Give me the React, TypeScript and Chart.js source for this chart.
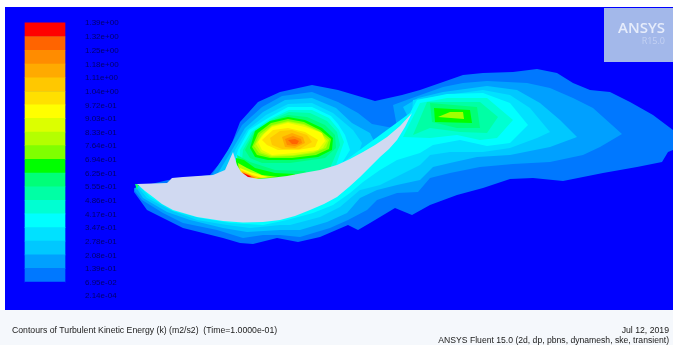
import React, { useEffect, useRef } from "react";
import { Chart, registerables } from "chart.js";

Chart.register(...registerables);

type P = [number, number];

const tickLabels = ["1.39e+00","1.32e+00","1.25e+00","1.18e+00","1.11e+00","1.04e+00","9.72e-01","9.03e-01","8.33e-01","7.64e-01","6.94e-01","6.25e-01","5.55e-01","4.86e-01","4.17e-01","3.47e-01","2.78e-01","2.08e-01","1.39e-01","6.95e-02","2.14e-04"];
const tickValues = [1.39,1.32,1.25,1.18,1.11,1.04,0.972,0.903,0.833,0.764,0.694,0.625,0.555,0.486,0.417,0.347,0.278,0.208,0.139,0.0695,0.000214];
const barColors = ["#ff0000","#ff6400","#ff8c00","#ffaa00","#ffc800","#ffe000","#ffff00","#dcff00","#b4ff00","#80ff00","#00ff00","#00ff78","#00ffa5","#00ffd2","#00ffff","#00e1ff","#00c8ff","#00a0ff","#0078ff","#0000ff"];

const title = "Contours of Turbulent Kinetic Energy (k) (m2/s2)  (Time=1.0000e-01)";
const dateText = "Jul 12, 2019";
const solverText = "ANSYS Fluent 15.0 (2d, dp, pbns, dynamesh, ske, transient)";

const field: P[] = [[5,7],[673,7],[673,310],[5,310],[5,7]];
const footer: P[] = [[0,310],[673,310],[673,345],[0,345],[0,310]];
const logo: P[] = [[604,8],[673,8],[673,62],[604,62],[604,8]];

const level1: P[] = [[134,188],[168,180],[210,175],[225,157],[232,143],[240,122],[258,102],[280,92],[312,85],[338,90],[375,101],[402,95],[420,90],[443,82],[463,75],[483,73],[513,72],[537,69],[557,73],[573,83],[590,90],[610,92],[630,102],[653,115],[673,130],[673,150],[668,152],[662,162],[637,167],[603,173],[563,181],[533,178],[510,179],[483,188],[457,195],[430,205],[412,215],[395,208],[370,223],[358,230],[348,225],[320,237],[298,242],[277,238],[253,244],[240,243],[223,238],[203,233],[183,228],[163,218],[147,210],[142,203],[134,192]];
const level2: P[] = [[135,188],[210,178],[228,150],[242,125],[262,107],[282,96],[312,92],[338,102],[358,113],[372,124],[393,128],[397,127],[393,105],[412,98],[443,87],[463,83],[487,81],[527,83],[550,88],[573,98],[593,108],[622,134],[600,147],[583,155],[550,162],[513,164],[480,167],[450,173],[430,178],[418,192],[397,193],[377,200],[367,210],[348,220],[330,228],[300,237],[280,235],[263,235],[243,238],[217,230],[183,223],[163,213],[142,200],[135,191]];
const level3: P[] = [[136,187],[215,178],[232,150],[245,128],[263,112],[285,100],[312,98],[336,108],[352,123],[370,133],[377,147],[403,125],[408,117],[403,107],[418,98],[443,92],[487,86],[517,90],[540,103],[560,120],[577,137],[550,147],[510,155],[477,157],[450,163],[433,167],[420,180],[397,185],[377,190],[360,198],[347,213],[327,222],[300,230],[280,230],[247,232],[223,228],[190,220],[167,212],[143,198]];
const level4: P[] = [[137,186],[225,178],[235,150],[247,130],[266,115],[288,104],[312,103],[333,113],[353,130],[362,143],[357,158],[408,118],[412,112],[413,100],[447,95],[483,90],[510,95],[530,108],[550,132],[537,138],[510,148],[483,152],[450,152],[430,155],[420,165],[400,175],[380,185],[360,190],[340,207],[320,217],[290,225],[280,225],[250,228],[227,225],[197,220],[170,210],[147,198]];
const level5: P[] = [[140,187],[230,178],[238,150],[249,130],[268,118],[288,107],[312,107],[331,116],[338,124],[345,135],[350,150],[342,163],[410,113],[417,100],[447,94],[483,93],[510,103],[528,125],[510,143],[487,146],[460,140],[433,145],[420,153],[397,160],[380,170],[363,182],[350,193],[333,205],[313,213],[287,220],[263,225],[230,223],[200,218],[173,211],[150,197]];
const level6Lobe: P[] = [[240,178],[240,150],[251,132],[270,119],[289,110],[312,110],[329,118],[339,130],[344,142],[336,165],[300,178]];
const level6Wake: P[] = [[403,137],[420,103],[447,98],[487,98],[513,120],[497,138],[480,140],[457,135],[430,138]];
const level7Lobe: P[] = [[240,178],[243,150],[253,132],[271,120],[289,112],[310,113],[327,121],[337,132],[340,145],[330,168],[300,176]];
const level7Wake: P[] = [[413,135],[427,102],[480,102],[498,117],[487,133],[460,132],[430,128]];
const level8Lobe: P[] = [[245,150],[255,131],[271,121],[288,115],[307,117],[325,125],[335,135],[336,148],[325,158],[290,163],[262,163],[250,158]];
const level8Lip: P[] = [[237,155],[250,162],[275,170],[305,171],[310,178],[240,180]];
const level8Wake: P[] = [[432,122],[430,103],[477,107],[480,128],[457,128]];
const level8Tip: P[] = [[135,184],[139,184],[137,190]];
const level9Lobe: P[] = [[250,148],[255,131],[270,121],[288,117],[305,120],[322,128],[333,138],[332,150],[318,157],[292,160],[268,160],[255,157]];
const level9Lip: P[] = [[236,158],[244,160],[255,168],[275,173],[295,174],[295,182],[240,182],[235,170]];
const level9Wake: P[] = [[435,122],[434,108],[470,110],[472,123]];
const level10Lobe: P[] = [[252,147],[258,133],[271,123],[288,119],[304,122],[320,130],[331,139],[329,149],[316,155],[292,158],[270,158],[257,155]];
const level10Wake: P[] = [[438,117],[450,112],[463,112],[464,119]];
const level11Lobe: P[] = [[254,146],[260,134],[272,125],[288,121],[304,124],[319,131],[329,140],[326,148],[314,153],[293,156],[271,157],[259,153]];
const level11Lip: P[] = [[238,163],[247,168],[262,175],[278,177],[240,180]];
const level12Lobe: P[] = [[256,144],[262,135],[272,126],[288,122],[304,125],[320,132],[327,141],[323,148],[313,152],[294,155],[272,156],[261,152]];
const level13Lobe: P[] = [[258,142],[264,134],[272,127],[288,123],[305,127],[322,133],[325,141],[318,150],[295,153],[272,155],[262,150]];
const level13Lip: P[] = [[240,168],[250,172],[268,177],[243,180]];
const level14Lobe: P[] = [[262,140],[273,130],[288,128],[305,132],[318,140],[315,147],[298,150],[278,150],[267,145]];
const level15Lobe: P[] = [[270,138],[280,131],[292,130],[307,135],[312,142],[300,149],[282,149],[272,145]];
const level15Lip: P[] = [[241,170],[252,175],[262,178],[244,179]];
const level16Lobe: P[] = [[282,137],[292,133],[303,137],[305,143],[295,148],[285,147]];
const level17Lobe: P[] = [[285,139],[293,136],[301,139],[302,143],[295,146],[287,145]];
const level17Lip: P[] = [[242,172],[252,176],[256,178],[245,178]];
const level18Lobe: P[] = [[288,140],[295,139],[299,141],[297,144],[292,144]];
const level19Lip: P[] = [[243,173],[250,176],[252,177.5],[246,177]];
const blade: P[] = [[137,184],[167,183],[172,178],[183,177],[213,175],[225,170],[233,152],[237,165],[241,172],[248,177],[258,179],[270,178],[287,176],[303,173],[320,170],[337,165],[350,159],[363,152],[375,145],[387,137],[400,126],[412,113],[405,127],[397,140],[389,149],[380,157],[370,167],[360,177],[349,187],[337,197],[324,204],[310,210],[295,216],[280,220],[263,222],[243,222.5],[223,221],[197,217],[173,210],[162,204],[153,197],[145,191]];

const layers: [P[], string][] = [
  [field, "#0000ff"], [footer, "#f5f8fc"], [logo, "#a3b8ea"],
  [level1, "#0078ff"], [level2, "#00a0ff"], [level3, "#00c8ff"], [level4, "#00e1ff"], [level5, "#00ffff"],
  [level6Lobe, "#00ffd2"], [level6Wake, "#00ffd2"], [level7Lobe, "#00ffa5"], [level7Wake, "#00ffa5"],
  [level8Lobe, "#00ff78"], [level8Lip, "#00ff78"], [level8Wake, "#00ff78"], [level8Tip, "#00ff78"],
  [level9Lobe, "#00ff00"], [level9Lip, "#00ff00"], [level9Wake, "#00ff00"],
  [level10Lobe, "#80ff00"], [level10Wake, "#a0ff00"],
  [level11Lobe, "#b4ff00"], [level11Lip, "#b4ff00"], [level12Lobe, "#dcff00"],
  [level13Lobe, "#ffff00"], [level13Lip, "#ffff00"], [level14Lobe, "#ffe000"],
  [level15Lobe, "#ffc800"], [level15Lip, "#ffc800"], [level16Lobe, "#ffaa00"],
  [level17Lobe, "#ff8c00"], [level17Lip, "#ff8c00"], [level18Lobe, "#ff6400"], [level19Lip, "#ff0000"],
  [blade, "#d0d9f1"],
];

const textPlugin = {
  id: "fluentText",
  afterDatasetsDraw(chart: any) {
    const { ctx } = chart;
    const k = chart.scales.k;
    ctx.save();
    ctx.textBaseline = "middle";
    ctx.textAlign = "left";
    ctx.font = '8px "Liberation Sans"';
    ctx.fillStyle = "rgba(0,0,70,0.8)";
    tickLabels.forEach((t, i) => ctx.fillText(t, 85, k.getPixelForValue(tickValues[i]) + 0.5));
    ctx.fillStyle = "#202020";
    ctx.font = '8.7px "Liberation Sans"';
    ctx.fillText(title, 12, 331);
    ctx.textAlign = "right";
    ctx.fillText(dateText, 669, 331);
    ctx.font = '8.62px "Liberation Sans"';
    ctx.fillText(solverText, 669, 341);
    ctx.fillStyle = "#e6ecfb";
    ctx.font = '600 15px "Open Sans"';
    ctx.fillText("ANSYS", 665, 29);
    ctx.fillStyle = "#c4d1f3";
    ctx.font = '9px "Open Sans"';
    ctx.fillText("R15.0", 665, 41);
    ctx.restore();
  },
};

export default function App() {
  const ref = useRef<HTMLCanvasElement>(null);
  useEffect(() => {
    const shapes = layers.map(([pts, color], i) => ({
      type: "scatter" as const,
      data: [...pts, pts[0]].map(([x, y]) => ({ x, y })),
      showLine: true,
      fill: "shape",
      backgroundColor: color,
      borderColor: color,
      borderWidth: 0,
      pointRadius: 0,
      tension: 0,
      order: 100 - i,
    }));
    const bars = {
      type: "bar" as const,
      yAxisID: "k",
      data: barColors.map((_, i) => ({ x: 45, y: [tickValues[i + 1], tickValues[i]] })),
      backgroundColor: barColors,
      barThickness: 40,
      borderWidth: 0,
      order: 0,
    };
    const chart = new Chart(ref.current!, {
      data: { datasets: [...shapes, bars] as any },
      options: {
        animation: false,
        responsive: false,
        layout: { padding: 0 },
        scales: {
          x: { type: "linear", min: 0, max: 673, display: false, offset: false },
          y: { type: "linear", min: 0, max: 345, reverse: true, display: false },
          k: { type: "linear", min: -0.2508, max: 1.5056, display: false },
        },
        plugins: { legend: { display: false }, tooltip: { enabled: false }, title: { display: false } },
      },
      plugins: [textPlugin],
    } as any);
    return () => chart.destroy();
  }, []);
  return (
    <canvas
      ref={ref}
      width={673}
      height={345}
      style={{ position: "fixed", left: 0, top: 0, width: 673, height: 345, display: "block", filter: "blur(0.5px)" }}
    />
  );
}
